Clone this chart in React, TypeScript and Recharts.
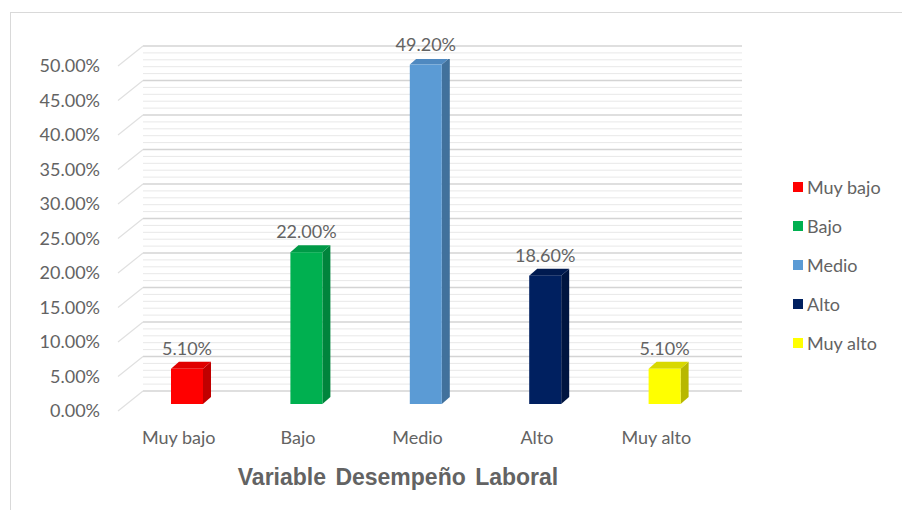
import React from 'react';
import { BarChart, Bar, XAxis, YAxis, CartesianGrid, Cell, LabelList } from 'recharts';

const CATEGORIES = ['Muy bajo', 'Bajo', 'Medio', 'Alto', 'Muy alto'];
const VALUES = [0.051, 0.22, 0.492, 0.186, 0.051];
const FRONT_COLORS = ['#FF0000', '#00B050', '#5B9BD5', '#002060', '#FFFF00'];
const SIDE_COLORS = ['#C00000', '#00843C', '#41719C', '#001540', '#B8B800'];
const TOP_COLORS = ['#E00000', '#009A47', '#4F89C0', '#001A50', '#D8D800'];
const MAJOR_TICKS = [0, 0.05, 0.1, 0.15, 0.2, 0.25, 0.3, 0.35, 0.4, 0.45, 0.5];

const TEXT = '#636363';
const FONT = 'Lato, "Open Sans", sans-serif';

// gridlines every 1% (majors every 5%)
const GRID_VALUES = MAJOR_TICKS.slice(0, -1)
  .flatMap((t) => [0, 1, 2, 3, 4].map((k) => Math.round((t + k * 0.01) * 100) / 100))
  .concat([0.5]);

const data = CATEGORIES.map((name, i) => ({ name, value: VALUES[i] }));

const PLOT_TOP = 59;
const PLOT_BOTTOM = 404;

// 3D offsets
const DX = 8;
const DY = 7;
const WALL_DX = 16;
const WALL_DY = 13;

const pct = (v: number) => `${(v * 100).toFixed(2)}%`;

function Bar3D(props: any) {
  const { x, y, width, height, payload } = props;
  const i = CATEGORIES.indexOf(payload.name);
  const front = FRONT_COLORS[i];
  const side = SIDE_COLORS[i];
  const top = TOP_COLORS[i];
  return (
    <g>
      <polygon
        points={`${x + width},${y} ${x + width + DX},${y - DY} ${x + width + DX},${y + height - DY} ${x + width},${y + height}`}
        fill={side}
      />
      <polygon
        points={`${x},${y} ${x + DX},${y - DY} ${x + width + DX},${y - DY} ${x + width},${y}`}
        fill={top}
      />
      <rect x={x} y={y} width={width} height={height} fill={front} />
    </g>
  );
}

function GridLine(p: any) {
  const v = ((PLOT_BOTTOM - p.y1) / (PLOT_BOTTOM - PLOT_TOP)) * 50;
  const major = Math.round(v) % 5 === 0;
  return (
    <g key={`grid-${p.index}-${p.y1}`}>
      <line
        x1={p.x1 + WALL_DX}
        x2={p.x2 + 18}
        y1={p.y1 - WALL_DY}
        y2={p.y2 - WALL_DY}
        stroke={major ? '#D4D4D4' : '#E8E8E8'}
        strokeWidth={major ? 1.3 : 1}
      />
      {major && (
        <line
          x1={p.x1 - 9}
          x2={p.x1 + WALL_DX}
          y1={p.y1 + 7}
          y2={p.y1 - WALL_DY}
          stroke="#E0E0E0"
          strokeWidth={1.2}
        />
      )}
    </g>
  );
}

function YTick(props: any) {
  const { y, payload } = props;
  return (
    <text x={100} y={y + 6} textAnchor="end" dominantBaseline="central" fill={TEXT} fontSize={18} fontFamily={FONT}>
      {pct(payload.value)}
    </text>
  );
}

function XTick(props: any) {
  const { x, payload } = props;
  return (
    <text x={x - 8} y={437} textAnchor="middle" dominantBaseline="central" fill={TEXT} fontSize={18} fontFamily={FONT}>
      {payload.value}
    </text>
  );
}

function ValueLabel(props: any) {
  const { x, y, width, value } = props;
  return (
    <text
      x={x + width / 2}
      y={y - 21}
      textAnchor="middle"
      dominantBaseline="central"
      fill={TEXT}
      fontSize={18}
      fontFamily={FONT}
    >
      {pct(value)}
    </text>
  );
}

export default function App() {
  return (
    <div style={{ position: 'absolute', left: 0, top: 0, width: 902, height: 510, background: '#fff', overflow: 'hidden' }}>
      <div
        style={{
          position: 'absolute',
          left: 10,
          top: 12,
          width: 900,
          height: 510,
          borderLeft: '1px solid #D9D9D9',
          borderTop: '1px solid #D9D9D9',
        }}
      />
      <div style={{ position: 'absolute', left: 0, top: 0 }}>
        <BarChart
          width={902}
          height={510}
          data={data}
          margin={{ top: PLOT_TOP, right: 178, left: 67, bottom: 510 - PLOT_BOTTOM - 30 }}
        >
          <CartesianGrid vertical={false} horizontalValues={GRID_VALUES} horizontal={GridLine} />
          <XAxis dataKey="name" axisLine={false} tickLine={false} tick={<XTick />} height={30} interval={0} />
          <YAxis
            domain={[0, 0.5]}
            ticks={MAJOR_TICKS}
            interval={0}
            axisLine={false}
            tickLine={false}
            tick={<YTick />}
            width={60}
            allowDataOverflow
          />
          <Bar dataKey="value" barSize={32} shape={<Bar3D />} isAnimationActive={false}>
            {data.map((d, i) => (
              <Cell key={d.name} fill={FRONT_COLORS[i]} />
            ))}
            <LabelList dataKey="value" content={<ValueLabel />} />
          </Bar>
        </BarChart>
      </div>
      {/* legend */}
      <div style={{ position: 'absolute', left: 793, top: 167, fontFamily: FONT, fontSize: 18, color: TEXT }}>
        {CATEGORIES.map((c, i) => (
          <div key={c} style={{ display: 'flex', alignItems: 'center', height: 39 }}>
            <span style={{ display: 'inline-block', width: 10, height: 10, background: FRONT_COLORS[i], marginRight: 4 }} />
            <span>{c}</span>
          </div>
        ))}
      </div>
      <div
        style={{
          position: 'absolute',
          left: 0,
          width: 796,
          top: 464,
          textAlign: 'center',
          fontFamily: '"Liberation Sans", Arial, sans-serif',
          fontWeight: 'bold',
          fontSize: 23,
          wordSpacing: 3,
          color: TEXT,
        }}
      >
        Variable Desempeño Laboral
      </div>
    </div>
  );
}
